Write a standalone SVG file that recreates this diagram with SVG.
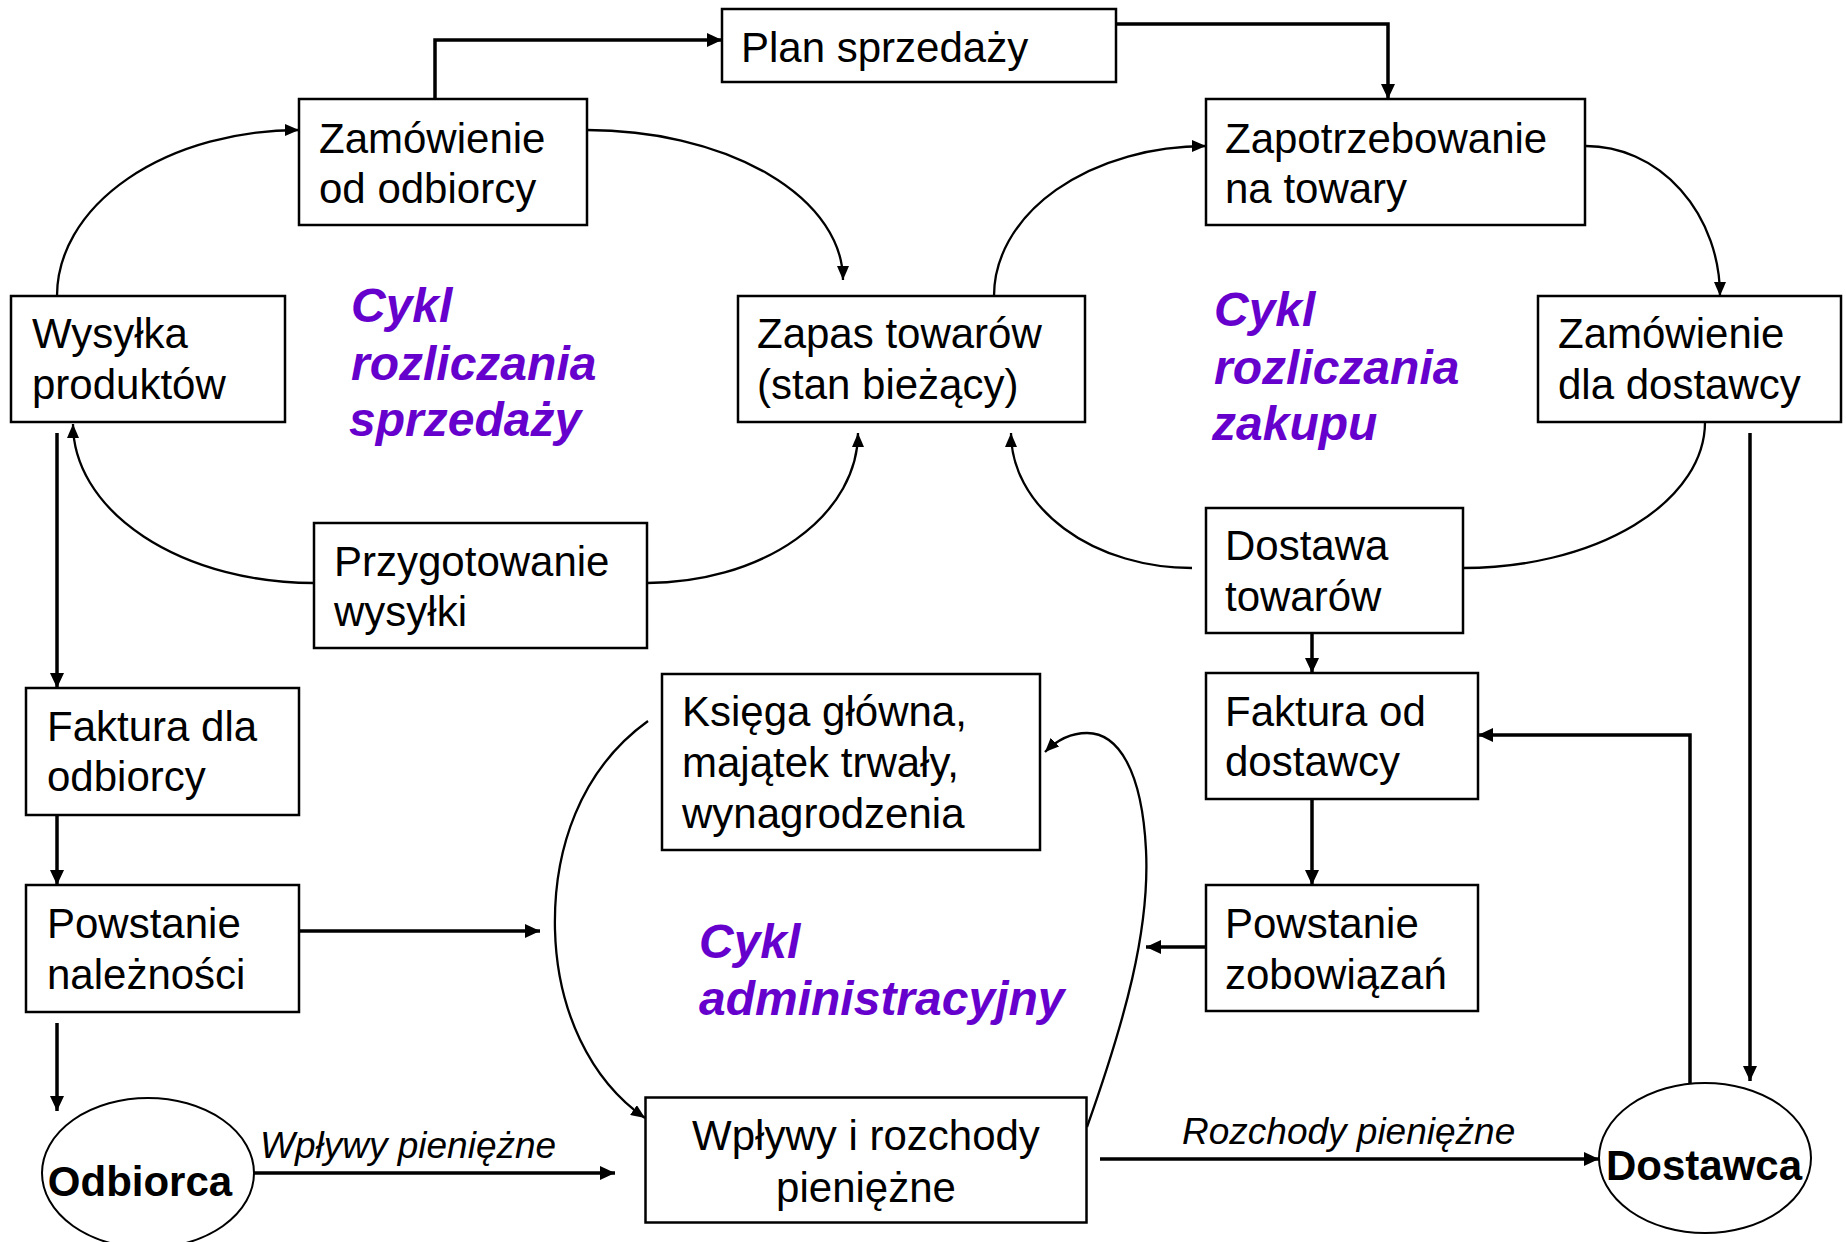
<svg xmlns="http://www.w3.org/2000/svg" width="1846" height="1242" viewBox="0 0 1846 1242">
<defs>
<style>
.box{fill:#fff;stroke:#000;stroke-width:2.5}
.ell{fill:#fff;stroke:#000;stroke-width:2}
.t{font-family:"Liberation Sans",Arial,sans-serif;font-size:42px;fill:#000}
.b{font-family:"Liberation Sans",Arial,sans-serif;font-size:42px;font-weight:bold;fill:#000}
.lbl{font-family:"Liberation Sans",Arial,sans-serif;font-size:37px;font-style:italic;fill:#000}
.cyc{font-family:"Liberation Sans",Arial,sans-serif;font-size:48px;font-weight:bold;font-style:italic;fill:#6600CC}
.thick{fill:none;stroke:#000;stroke-width:3.5}
.thin{fill:none;stroke:#000;stroke-width:2.3}
</style>
<marker id="ah" markerUnits="userSpaceOnUse" viewBox="0 0 15 14" markerWidth="15" markerHeight="14" refX="15" refY="7" orient="auto">
<path d="M0,0 L15,7 L0,14 z" fill="#000"/>
</marker>
<marker id="ahs" markerUnits="userSpaceOnUse" viewBox="0 0 14 12" markerWidth="14" markerHeight="12" refX="14" refY="6" orient="auto">
<path d="M0,0 L14,6 L0,12 z" fill="#000"/>
</marker>
</defs>
<rect width="1846" height="1242" fill="#fff"/>

<g id="connectors">
<path class="thick" d="M435,99 V40 H722" marker-end="url(#ah)"/>
<path class="thick" d="M1116,24 H1388 V99" marker-end="url(#ah)"/>
<path class="thick" d="M57,433 V688" marker-end="url(#ah)"/>
<path class="thick" d="M57,811 V885" marker-end="url(#ah)"/>
<path class="thick" d="M57,1023 V1111" marker-end="url(#ah)"/>
<path class="thick" d="M299,931 H540" marker-end="url(#ah)"/>
<path class="thick" d="M254,1173 H615" marker-end="url(#ah)"/>
<path class="thick" d="M1312,633 V673" marker-end="url(#ah)"/>
<path class="thick" d="M1312,799 V885" marker-end="url(#ah)"/>
<path class="thick" d="M1206,947 H1146" marker-end="url(#ah)"/>
<path class="thick" d="M1100,1159 H1599" marker-end="url(#ah)"/>
<path class="thick" d="M1690,1083 V735 H1478" marker-end="url(#ah)"/>
<path class="thick" d="M1750,433 V1081" marker-end="url(#ah)"/>

<path class="thin" d="M57,296 A242,166 0 0 1 299,130" marker-end="url(#ahs)"/>
<path class="thin" d="M587,130 A256,150 0 0 1 843,280" marker-end="url(#ahs)"/>
<path class="thin" d="M994,296 A212,150 0 0 1 1206,146" marker-end="url(#ahs)"/>
<path class="thin" d="M1586,146 A134,150 0 0 1 1720,296" marker-end="url(#ahs)"/>
<path class="thin" d="M1705,422 A242,146 0 0 1 1463,568"/>
<path class="thin" d="M1192,568 A181,135 0 0 1 1011,433" marker-end="url(#ahs)"/>
<path class="thin" d="M314,583 A241,159 0 0 1 73,424" marker-end="url(#ahs)"/>
<path class="thin" d="M647,583 A211,150 0 0 0 858,433" marker-end="url(#ahs)"/>
<path class="thin" d="M648,721 C580,770 553,850 555,930 C557,1010 590,1080 645,1118" marker-end="url(#ahs)"/>
<path class="thin" d="M1087,1127 C1125,1020 1150,930 1146,850 C1142,770 1118,733 1087,733 C1070,733 1055,742 1045,752" marker-end="url(#ahs)"/>

<text class="lbl" x="260" y="1158">Wpływy pieniężne</text>
<text class="lbl" x="1182" y="1144">Rozchody pieniężne</text>
</g>

<g id="plan">
<rect class="box" x="722" y="9" width="394" height="73"/>
<text class="t" x="741" y="62">Plan sprzedaży</text>
</g>
<g id="zamowienie-od-odbiorcy">
<rect class="box" x="299" y="99" width="288" height="126"/>
<text class="t" x="319" y="153">Zamówienie</text>
<text class="t" x="319" y="203">od odbiorcy</text>
</g>
<g id="zapotrzebowanie">
<rect class="box" x="1206" y="99" width="379" height="126"/>
<text class="t" x="1225" y="153">Zapotrzebowanie</text>
<text class="t" x="1225" y="203">na towary</text>
</g>
<g id="wysylka">
<rect class="box" x="11" y="296" width="274" height="126"/>
<text class="t" x="32" y="348">Wysyłka</text>
<text class="t" x="32" y="399">produktów</text>
</g>
<g id="zapas">
<rect class="box" x="738" y="296" width="347" height="126"/>
<text class="t" x="757" y="348">Zapas towarów</text>
<text class="t" x="757" y="399">(stan bieżący)</text>
</g>
<g id="zamowienie-dla-dostawcy">
<rect class="box" x="1538" y="296" width="303" height="126"/>
<text class="t" x="1558" y="348">Zamówienie</text>
<text class="t" x="1558" y="399">dla dostawcy</text>
</g>
<g id="przygotowanie">
<rect class="box" x="314" y="523" width="333" height="125"/>
<text class="t" x="334" y="576">Przygotowanie</text>
<text class="t" x="334" y="626">wysyłki</text>
</g>
<g id="dostawa">
<rect class="box" x="1206" y="508" width="257" height="125"/>
<text class="t" x="1225" y="560">Dostawa</text>
<text class="t" x="1225" y="611">towarów</text>
</g>
<g id="faktura-dla-odbiorcy">
<rect class="box" x="26" y="688" width="273" height="127"/>
<text class="t" x="47" y="741">Faktura dla</text>
<text class="t" x="47" y="791">odbiorcy</text>
</g>
<g id="ksiega">
<rect class="box" x="662" y="674" width="378" height="176"/>
<text class="t" x="682" y="726">Księga główna,</text>
<text class="t" x="682" y="777">majątek trwały,</text>
<text class="t" x="682" y="828">wynagrodzenia</text>
</g>
<g id="faktura-od-dostawcy">
<rect class="box" x="1206" y="673" width="272" height="126"/>
<text class="t" x="1225" y="726">Faktura od</text>
<text class="t" x="1225" y="776">dostawcy</text>
</g>
<g id="powstanie-naleznosci">
<rect class="box" x="26" y="885" width="273" height="127"/>
<text class="t" x="47" y="938">Powstanie</text>
<text class="t" x="47" y="989">należności</text>
</g>
<g id="powstanie-zobowiazan">
<rect class="box" x="1206" y="885" width="272" height="126"/>
<text class="t" x="1225" y="938">Powstanie</text>
<text class="t" x="1225" y="989">zobowiązań</text>
</g>
<g id="wplywy">
<rect class="box" x="645.5" y="1097.5" width="441" height="125"/>
<text class="t" x="866" y="1150" text-anchor="middle">Wpływy i rozchody</text>
<text class="t" x="866" y="1202" text-anchor="middle">pieniężne</text>
</g>
<g id="odbiorca">
<ellipse class="ell" cx="148" cy="1173" rx="106" ry="75"/>
<text class="b" x="140" y="1196" text-anchor="middle">Odbiorca</text>
</g>
<g id="dostawca">
<ellipse class="ell" cx="1705" cy="1158" rx="106" ry="75"/>
<text class="b" x="1704" y="1180" text-anchor="middle">Dostawca</text>
</g>

<g id="cykl-sprzedazy">
<text class="cyc" x="351" y="322">Cykl</text>
<text class="cyc" x="351" y="380">rozliczania</text>
<text class="cyc" x="349" y="436">sprzedaży</text>
</g>
<g id="cykl-zakupu">
<text class="cyc" x="1214" y="326">Cykl</text>
<text class="cyc" x="1214" y="384">rozliczania</text>
<text class="cyc" x="1212" y="440">zakupu</text>
</g>
<g id="cykl-administracyjny">
<text class="cyc" x="699" y="958">Cykl</text>
<text class="cyc" x="699" y="1015">administracyjny</text>
</g>
</svg>
